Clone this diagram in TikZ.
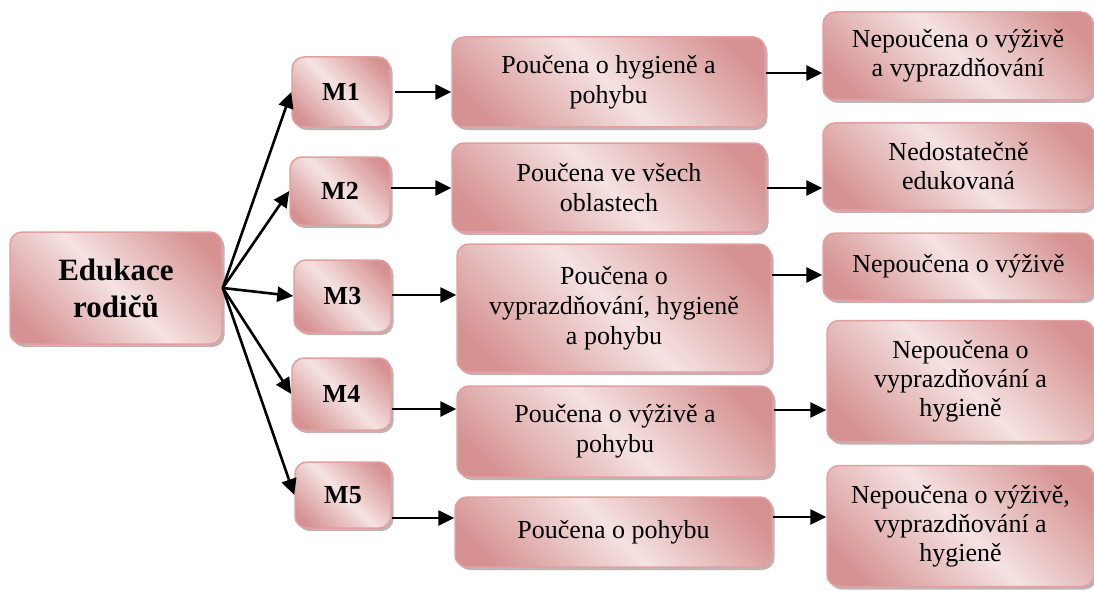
\documentclass[tikz,border=0pt]{standalone}
\usepackage{fontspec}
\setmainfont{Liberation Serif}
\usetikzlibrary{arrows.meta,shadows}
\definecolor{rosedark}{RGB}{214,146,146}
\definecolor{roselight}{RGB}{245,226,226}
\definecolor{roseedge}{RGB}{226,160,160}
\definecolor{roseshadow}{RGB}{150,128,128}
% dark corners, light diagonal band
\pgfdeclarehorizontalshading{rosecard}{100bp}{color(0bp)=(rosedark); color(22bp)=(rosedark);
  color(50bp)=(roselight); color(78bp)=(rosedark); color(100bp)=(rosedark)}
\begin{document}
\begin{tikzpicture}[x=1pt,y=-1pt,
  card/.style={rectangle, rounded corners=12pt, draw=roseedge, line width=1.5pt,
    shading=rosecard, shading angle=45,
    drop shadow={shadow xshift=2.5pt, shadow yshift=-3pt, fill=roseshadow, opacity=0.6},
    inner sep=0pt, align=center, font=\fontsize{26}{30}\selectfont},
  mcard/.style={card, font=\bfseries\fontsize{26}{30}\selectfont},
  rcard/.style={card, font=\fontsize{26}{29}\selectfont},
  arr/.style={-{Triangle[length=16pt,width=15pt]}, line width=2.6pt},
]
\useasboundingbox (0,0) rectangle (1094,591);

% root
\node[card, font=\bfseries\fontsize{31}{37}\selectfont,
      minimum width=212pt, minimum height=112pt] (E) at (116,288) {Edukace\\rodičů};

% mothers
\node[mcard, minimum width=98pt, minimum height=70pt]  (M1) at (341,92)    {M1};
\node[mcard, minimum width=100pt, minimum height=68pt] (M2) at (340,191)   {M2};
\node[mcard, minimum width=97pt, minimum height=72pt]  (M3) at (342.5,296) {M3};
\node[mcard, minimum width=99pt, minimum height=72pt]  (M4) at (341.5,394) {M4};
\node[mcard, minimum width=96pt, minimum height=66pt]  (M5) at (343,495)   {M5};

% what was taught
\node[card, minimum width=313pt, minimum height=90pt]  (P1) at (608.5,82)  {Poučena o hygieně a\\pohybu};
\node[card, minimum width=314pt, minimum height=89pt]  (P2) at (609,187.5) {Poučena ve všech\\oblastech};
\node[card, minimum width=314pt, minimum height=128pt] (P3) at (614,308)   {Poučena o\\vyprazdňování, hygieně\\a pohybu};
\node[card, minimum width=316pt, minimum height=91pt]  (P4) at (615,431.5) {Poučena o výživě a\\pohybu};
\node[card, minimum width=317pt, minimum height=70pt]  (P5) at (613.5,532) {Poučena o pohybu};

% what was missing
\node[rcard, minimum width=270pt, minimum height=88pt]  (R1) at (958,56)     {Nepoučena o výživě\\a vyprazdňování};
\node[rcard, minimum width=271pt, minimum height=87pt]  (R2) at (958.5,166.5) {Nedostatečně\\edukovaná};
\node[rcard, minimum width=271pt, minimum height=67pt]  (R3) at (958.5,266.5) {Nepoučena o výživě};
\node[rcard, minimum width=267pt, minimum height=121pt] (R4) at (960.5,381)  {Nepoučena o\\vyprazdňování a\\hygieně};
\node[rcard, minimum width=267pt, minimum height=121pt] (R5) at (960.5,526)  {Nepoučena o výživě,\\vyprazdňování a\\hygieně};

% fan from the root
\foreach \m in {M1,M2,M3,M4,M5}
  \draw[arr] (E.east) -- (\m.west);

% mother -> taught
\draw[arr, shorten <=4pt] (M1.east |- 0,92)  -- (P1.west |- 0,92);
\draw[arr] (M2.east |- 0,188) -- (P2.west |- 0,188);
\draw[arr] (M3.east |- 0,295) -- (P3.west |- 0,295);
\draw[arr] (M4.east |- 0,409) -- (P4.west |- 0,409);
\draw[arr] (M5.east |- 0,518) -- (P5.west |- 0,518);

% taught -> missing
\draw[arr] (P1.east |- 0,73)  -- (R1.west |- 0,73);
\draw[arr] (P2.east |- 0,188) -- (R2.west |- 0,188);
\draw[arr] (P3.east |- 0,275) -- (R3.west |- 0,275);
\draw[arr] (P4.east |- 0,410) -- (R4.west |- 0,410);
\draw[arr] (P5.east |- 0,517) -- (R5.west |- 0,517);
\end{tikzpicture}
\end{document}
